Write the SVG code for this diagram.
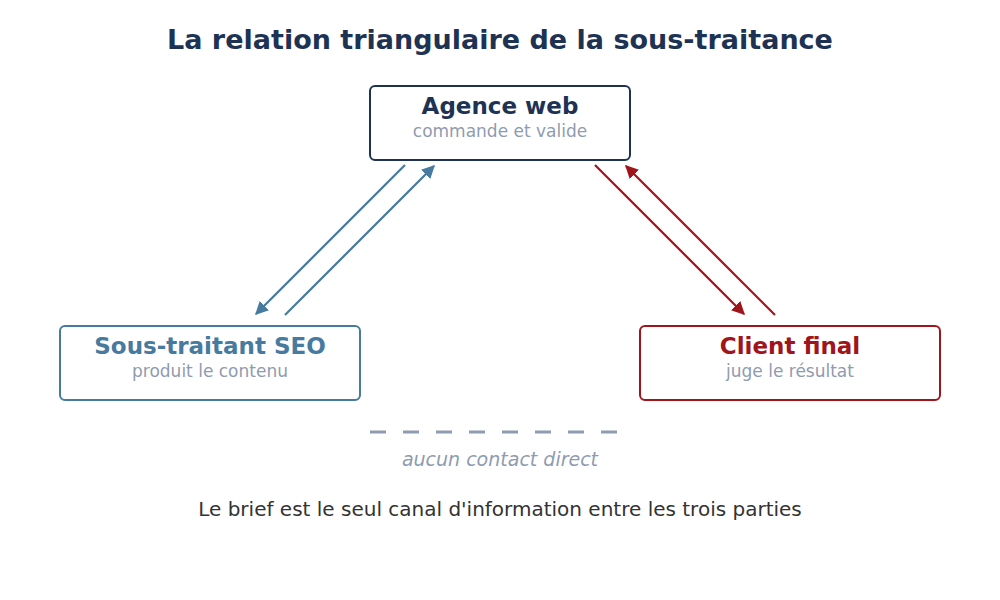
<svg xmlns="http://www.w3.org/2000/svg" width="1000" height="600" viewBox="0 0 1000 600">
<style>
text{font-family:"DejaVu Sans",sans-serif;text-anchor:middle}
.t{font-size:19px;font-weight:bold}
.s{font-size:17px;fill:#8f9bb0}
</style>
<defs>
<marker id="ab" viewBox="0 0 10 10" refX="9" refY="5" markerWidth="6" markerHeight="6" orient="auto"><path d="M0,0L10,5L0,10z" fill="#467a9e"/></marker>
<marker id="ar" viewBox="0 0 10 10" refX="9" refY="5" markerWidth="6" markerHeight="6" orient="auto"><path d="M0,0L10,5L0,10z" fill="#a0141c"/></marker>
</defs>
<rect width="1000" height="600" fill="#fff"/>
<text x="500" y="49" style="font-size:27px;font-weight:bold" fill="#1e3354">La relation triangulaire de la sous-traitance</text>
<g id="agence"><rect x="370" y="86" width="260" height="74" rx="5" fill="#fff" stroke="#1e3354" stroke-width="2"/><text x="500" y="114" class="t" style="font-size:23px" fill="#1e3354">Agence web</text><text x="500" y="137" class="s">commande et valide</text></g>
<g id="sous"><rect x="60" y="326" width="300" height="74" rx="5" fill="#fff" stroke="#467a9e" stroke-width="2"/><text x="210" y="354" class="t" style="font-size:23px" fill="#467a9e">Sous-traitant SEO</text><text x="210" y="377" class="s">produit le contenu</text></g>
<g id="client"><rect x="640" y="326" width="300" height="74" rx="5" fill="#fff" stroke="#a0141c" stroke-width="2"/><text x="790" y="354" class="t" style="font-size:23px" fill="#a0141c">Client final</text><text x="790" y="377" class="s">juge le résultat</text></g>
<g id="connectors" stroke-width="2.2">
<line x1="405" y1="165" x2="256" y2="314" stroke="#467a9e" marker-end="url(#ab)"/>
<line x1="285" y1="315" x2="434" y2="166" stroke="#467a9e" marker-end="url(#ab)"/>
<line x1="595" y1="165" x2="744" y2="314" stroke="#a0141c" marker-end="url(#ar)"/>
<line x1="775" y1="315" x2="626" y2="166" stroke="#a0141c" marker-end="url(#ar)"/>
<line x1="370" y1="432" x2="620" y2="432" stroke="#8f9bb0" stroke-width="3" stroke-dasharray="16 17"/>
</g>
<text x="500" y="466" style="font-size:19px;font-style:italic" fill="#8f9bb0">aucun contact direct</text>
<text x="500" y="516" style="font-size:20px" fill="#333">Le brief est le seul canal d'information entre les trois parties</text>
</svg>
